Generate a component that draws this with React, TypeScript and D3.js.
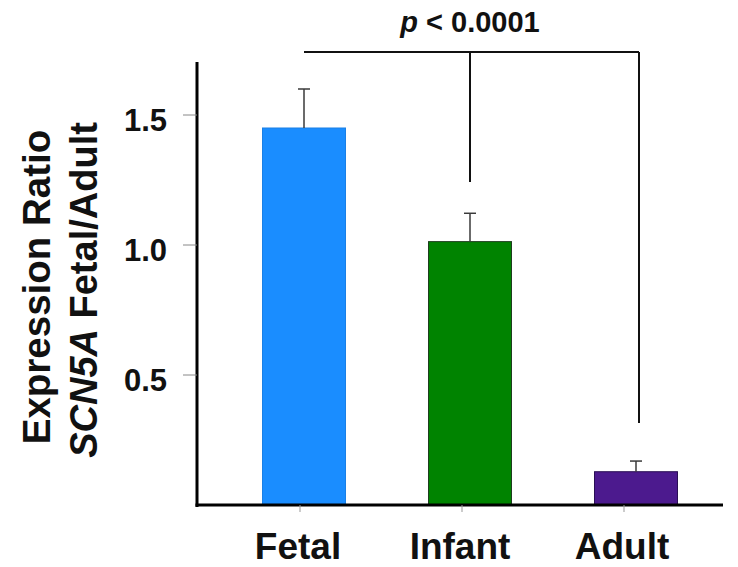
import React from "react";
import * as d3 from "d3";

// Expression ratio of SCN5A fetal/adult isoform by developmental stage
const categories = ["Fetal", "Infant", "Adult"];
const means = [1.45, 1.013, 0.128];
const upperErrors = [1.6, 1.122, 0.169];
const barColors = ["#1a8dff", "#008300", "#4c1a8e"];
const barEdges = ["#1a80e6", "#1f3d1f", "#2a0f55"];
const yTicks = [0.5, 1.0, 1.5];
const pLabel = "< 0.0001";

const W = 738;
const H = 567;
const FONT = "'Liberation Sans', Arial, Helvetica, sans-serif";

export default function App() {
  const y = d3.scaleLinear().domain([0, 1.7]).range([505, 63]);
  const x = d3
    .scaleBand<string>()
    .domain(categories)
    .range([221, 719])
    .paddingInner(0.5)
    .paddingOuter(0.25);
  // category tick / label positions along the baseline
  const xl = d3.scalePoint<string>().domain(categories).range([300, 624]);

  const cx = (c: string) => (x(c) as number) + x.bandwidth() / 2;
  const axisX = 197;
  const axisY = y(0);

  const bracketY = 52;
  const left = cx(categories[0]);
  const mid = cx(categories[1]);
  const right = cx(categories[2]) + 3;

  return (
    <svg
      width={W}
      height={H}
      style={{ position: "absolute", left: 0, top: 0, background: "#fff" }}
      fontFamily={FONT}
    >
      {/* bars */}
      {categories.map((c, i) => (
        <rect
          key={c}
          x={x(c)}
          y={y(means[i])}
          width={x.bandwidth()}
          height={axisY - y(means[i])}
          fill={barColors[i]}
          stroke={barEdges[i]}
          strokeWidth={1}
        />
      ))}

      {/* upper error bars */}
      {categories.map((c, i) => (
        <g key={c + "-err"} stroke="#3a3a3a" strokeWidth={1.5}>
          <line x1={cx(c)} x2={cx(c)} y1={y(means[i])} y2={y(upperErrors[i])} />
          <line x1={cx(c) - 6} x2={cx(c) + 6} y1={y(upperErrors[i])} y2={y(upperErrors[i])} />
        </g>
      ))}

      {/* y axis */}
      <line x1={axisX} x2={axisX} y1={62} y2={axisY + 2} stroke="#000" strokeWidth={3} />
      {yTicks.map((t) => (
        <g key={t}>
          <line x1={axisX - 14} x2={axisX} y1={y(t)} y2={y(t)} stroke="#888" strokeWidth={1} />
          <text
            x={167}
            y={y(t) + 16}
            textAnchor="end"
            fontSize={31}
            fontWeight="bold"
            fill="#111"
          >
            {d3.format(".1f")(t)}
          </text>
        </g>
      ))}

      {/* x axis */}
      <line x1={axisX - 1.5} x2={723} y1={axisY} y2={axisY} stroke="#000" strokeWidth={3} />
      {categories.map((c) => (
        <g key={c + "-lab"}>
          <line x1={xl(c)} x2={xl(c)} y1={axisY} y2={axisY + 7} stroke="#999" strokeWidth={1} />
          <text
            x={(xl(c) as number) - 2}
            y={559}
            textAnchor="middle"
            fontSize={37}
            fontWeight="bold"
            fill="#111"
          >
            {c}
          </text>
        </g>
      ))}

      {/* y axis title */}
      <text
        transform="translate(50,287) rotate(-90)"
        textAnchor="middle"
        fontSize={38.5}
        fontWeight="bold"
        fill="#111"
      >
        Expression Ratio
      </text>
      <text
        transform="translate(97,290) rotate(-90)"
        textAnchor="middle"
        fontSize={38}
        fontWeight="bold"
        fill="#111"
      >
        <tspan fontStyle="italic">SCN5A</tspan>
        <tspan> Fetal/Adult</tspan>
      </text>

      {/* significance bracket */}
      <g stroke="#111" strokeWidth={2} fill="none">
        <line x1={left} x2={right} y1={bracketY} y2={bracketY} />
        <line x1={mid} x2={mid} y1={bracketY} y2={182} />
        <line x1={right} x2={right} y1={bracketY} y2={423} />
      </g>
      <text
        x={mid}
        y={32}
        textAnchor="middle"
        fontSize={29}
        fontWeight="bold"
        fill="#111"
      >
        <tspan fontStyle="italic">p</tspan>
        <tspan> {pLabel}</tspan>
      </text>
    </svg>
  );
}
